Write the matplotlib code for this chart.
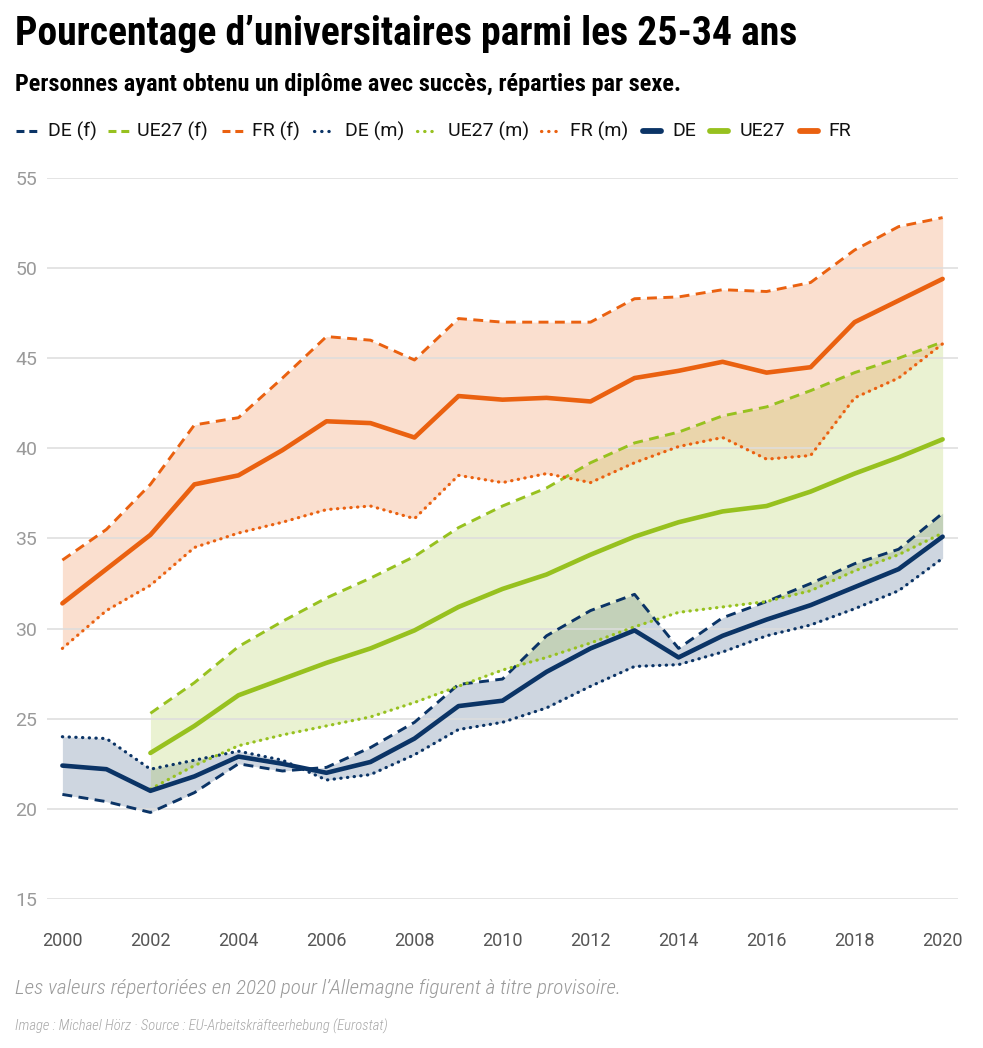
import matplotlib.pyplot as plt
from matplotlib import font_manager
from matplotlib.lines import Line2D

years = list(range(2000, 2021))
years_eu = list(range(2002, 2021))

de_f = [20.8, 20.4, 19.8, 20.9, 22.5, 22.1, 22.3, 23.4, 24.8, 26.9, 27.2,
        29.6, 31.0, 31.9, 28.9, 30.6, 31.5, 32.5, 33.6, 34.4, 36.4]
de_m = [24.0, 23.9, 22.2, 22.7, 23.2, 22.7, 21.6, 21.9, 23.0, 24.4, 24.8,
        25.6, 26.8, 27.9, 28.0, 28.7, 29.6, 30.2, 31.1, 32.1, 33.9]
de = [22.4, 22.2, 21.0, 21.8, 22.9, 22.5, 22.0, 22.6, 23.9, 25.7, 26.0,
      27.6, 28.9, 29.9, 28.4, 29.6, 30.5, 31.3, 32.3, 33.3, 35.1]

eu_f = [25.3, 27.0, 29.0, 30.4, 31.7, 32.8, 34.0, 35.6, 36.8, 37.8, 39.2,
        40.3, 40.9, 41.8, 42.3, 43.2, 44.2, 45.0, 45.9]
eu_m = [21.1, 22.4, 23.5, 24.1, 24.6, 25.1, 25.9, 26.8, 27.7, 28.4, 29.2,
        30.1, 30.9, 31.2, 31.5, 32.1, 33.2, 34.1, 35.3]
eu = [23.1, 24.6, 26.3, 27.2, 28.1, 28.9, 29.9, 31.2, 32.2, 33.0, 34.1,
      35.1, 35.9, 36.5, 36.8, 37.6, 38.6, 39.5, 40.5]

fr_f = [33.8, 35.5, 38.0, 41.3, 41.7, 43.9, 46.2, 46.0, 44.9, 47.2, 47.0,
        47.0, 47.0, 48.3, 48.4, 48.8, 48.7, 49.2, 51.0, 52.3, 52.8]
fr_m = [28.9, 31.0, 32.4, 34.5, 35.3, 35.9, 36.6, 36.8, 36.1, 38.5, 38.1,
        38.6, 38.1, 39.2, 40.1, 40.6, 39.4, 39.6, 42.8, 43.9, 45.8]
fr = [31.4, 33.3, 35.2, 38.0, 38.5, 39.9, 41.5, 41.4, 40.6, 42.9, 42.7,
      42.8, 42.6, 43.9, 44.3, 44.8, 44.2, 44.5, 47.0, 48.2, 49.4]

legend_labels = ['DE (f)', 'UE27 (f)', 'FR (f)', 'DE (m)', 'UE27 (m)', 'FR (m)', 'DE', 'UE27', 'FR']

C_DE = '#0b3466'
C_EU = '#97c11f'
C_FR = '#ea6110'

DASH = (0, (3.4, 2.2))
DOT = (0, (0.1, 2.0))

installed = {f.name for f in font_manager.fontManager.ttflist}
narrow = 'Roboto'
for cand in ['Liberation Sans Narrow', 'DejaVu Sans Condensed', 'Roboto Condensed', 'Open Sans Condensed']:
  if cand in installed:
    narrow = cand
    break

plt.rcParams['font.family'] = ['Roboto', 'DejaVu Sans']

W, H = 983, 1048
fig = plt.figure(figsize=(W / 100, H / 100), dpi=100)
ax = fig.add_axes([0.0478, 0.1422, 0.9268, 0.688])

series = [
  (years, de_f, de_m, de, C_DE),
  (years_eu, eu_f, eu_m, eu, C_EU),
  (years, fr_f, fr_m, fr, C_FR),
]

for x, f, m, t, c in series:
  ax.fill_between(x, f, m, color=c, alpha=0.2, linewidth=0, zorder=1)

for x, f, m, t, c in series:
  ax.plot(x, f, color=c, lw=2.1, linestyle=DASH, dash_capstyle='butt', zorder=3)
  ax.plot(x, m, color=c, lw=2.3, linestyle=DOT, dash_capstyle='round', zorder=3)
for x, f, m, t, c in series:
  ax.plot(x, t, color=c, lw=3.3, solid_capstyle='round', solid_joinstyle='round', zorder=4)

ax.set_xlim(1999.65, 2020.35)
ax.set_ylim(15, 55)
ax.set_yticks(range(15, 56, 5))
ax.set_xticks(range(2000, 2021, 2))
ax.grid(axis='y', color='#dddddd', lw=1.1, zorder=0)
for s in ax.spines.values():
  s.set_visible(False)
ax.tick_params(axis='y', length=0, pad=7, labelsize=14, labelcolor='#9a9a9a')
ax.tick_params(axis='x', length=0, pad=24, labelsize=13, labelcolor='#555555')

# legend drawn by hand so every entry sits where the reference has it
legend_styles = [
  (C_DE, 'dash'), (C_EU, 'dash'), (C_FR, 'dash'),
  (C_DE, 'dot'), (C_EU, 'dot'), (C_FR, 'dot'),
  (C_DE, 'solid'), (C_EU, 'solid'), (C_FR, 'solid'),
]
handle_x = [16, 108, 222, 312, 415, 539, 640, 707, 797]
text_x = [48, 137, 252, 345, 448, 570, 672, 740, 828]
ly = 1 - 131 / H
for (c, kind), hx, tx, lab in zip(legend_styles, handle_x, text_x, legend_labels):
  if kind == 'dash':
    ln = Line2D([hx / W, (hx + 21) / W], [ly, ly], color=c, lw=2.2,
                linestyle=(0, (2.6, 1.6)), dash_capstyle='butt')
  elif kind == 'dot':
    ln = Line2D([(hx + 1.5) / W, (hx + 23) / W], [ly, ly], color=c, lw=2.3,
                linestyle=(0, (0.1, 2.15)), dash_capstyle='round')
  else:
    ln = Line2D([(hx + 2.5) / W, (hx + 20.5) / W], [ly, ly], color=c, lw=4.2,
                solid_capstyle='round')
  ln.set_transform(fig.transFigure)
  fig.add_artist(ln)
  fig.text(tx / W, ly, lab, fontsize=14, va='center', ha='left', color='#111111',
           family=['Roboto', 'DejaVu Sans'])

renderer = fig.canvas.get_renderer()

def fit_text(x, y, s, width_px, **kw):
  t = fig.text(x, y, s, **kw)
  w = t.get_window_extent(renderer).width
  t.set_fontsize(t.get_fontsize() * width_px / w)
  return t

fit_text(15 / W, 1 - 34 / H, 'Pourcentage d\u2019universitaires parmi les 25-34 ans', 782,
         fontsize=28, fontweight='bold', va='center', ha='left', color='#000000',
         family=[narrow, 'DejaVu Sans'])
fit_text(15 / W, 1 - 85 / H,
         'Personnes ayant obtenu un dipl\u00f4me avec succ\u00e8s, r\u00e9parties par sexe.', 666,
         fontsize=17, fontweight='bold', va='center', ha='left', color='#000000',
         family=[narrow, 'DejaVu Sans'])
fit_text(15 / W, 1 - 988 / H,
         'Les valeurs r\u00e9pertori\u00e9es en 2020 pour l\u2019Allemagne figurent \u00e0 titre provisoire.',
         603, fontsize=13, fontstyle='italic', fontweight='light', color='#9a9a9a',
         va='center', ha='left', family=[narrow, 'DejaVu Sans'])
fit_text(15 / W, 1 - 1026 / H,
         'Image : Michael H\u00f6rz \u00b7 Source : EU-Arbeitskr\u00e4fteerhebung (Eurostat)', 372,
         fontsize=9, fontstyle='italic', fontweight='light', color='#a8a8a8',
         va='center', ha='left', family=[narrow, 'DejaVu Sans'])

fig.savefig('out.png', dpi=100)
